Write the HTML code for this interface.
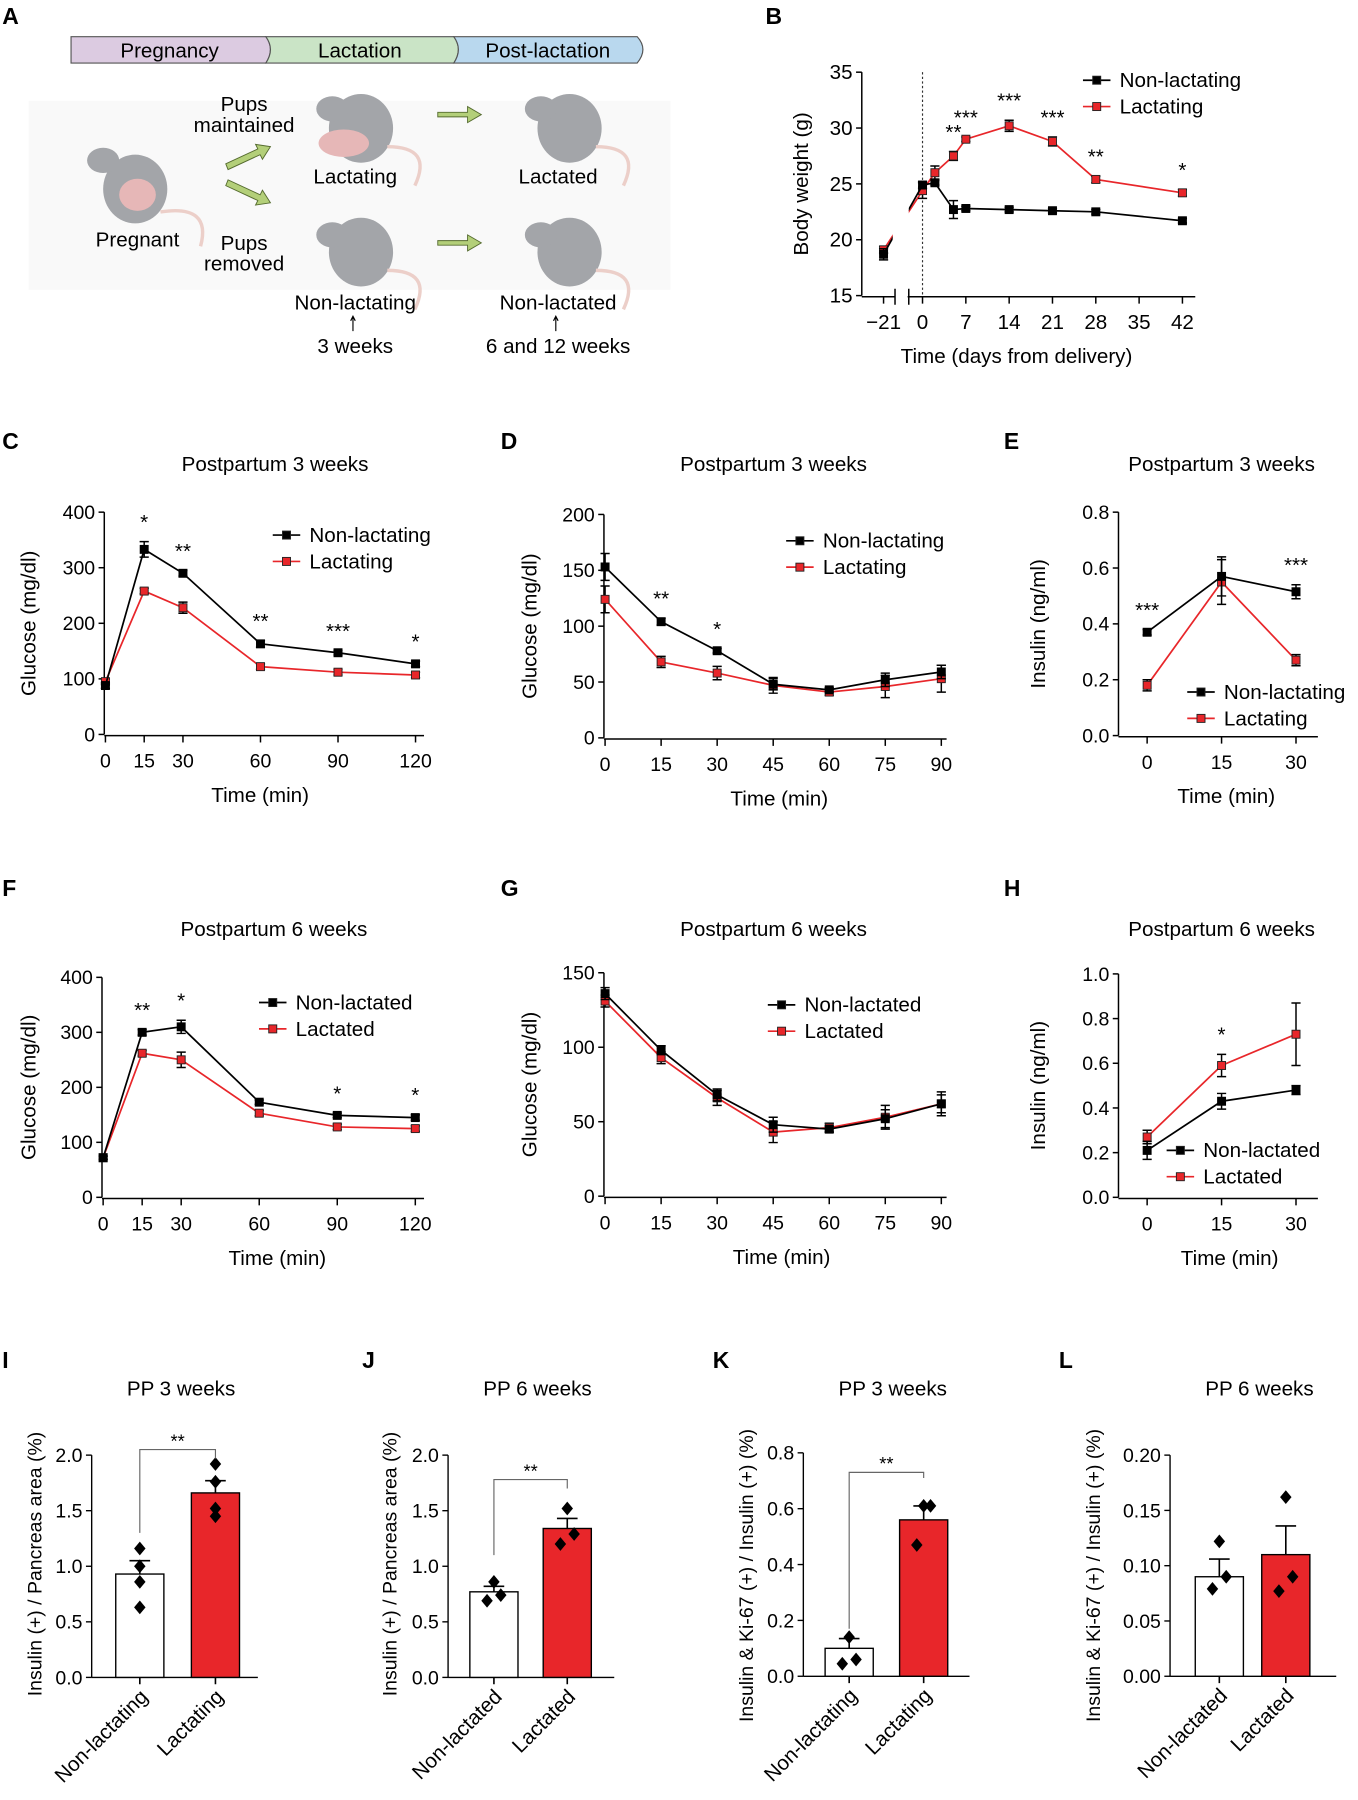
<!DOCTYPE html>
<html><head><meta charset="utf-8"><style>
html,body{margin:0;padding:0;background:#fff;}
svg{display:block;font-family:"Liberation Sans",sans-serif;}
</style></head><body>
<svg id="fig" width="1358" height="1800" viewBox="0 0 1185 1571" preserveAspectRatio="none" xmlns="http://www.w3.org/2000/svg">
<g font-weight="bold" font-size="20">
<text x="2" y="21">A</text><text x="668" y="21">B</text><text x="2" y="392">C</text><text x="437" y="392">D</text><text x="876" y="392">E</text><text x="2" y="782">F</text><text x="437" y="782">G</text><text x="876" y="782">H</text><text x="2" y="1194">I</text><text x="316" y="1194">J</text><text x="622" y="1194">K</text><text x="924" y="1194">L</text>
</g>
<g font-size="18" text-anchor="middle">
<rect x="25" y="88" width="560" height="165" fill="#f9f9f9"/>
<path d="M62,32 H232 Q240,43 232,55 H62 Z" fill="#dccbe1" stroke="#555"/>
<path d="M232,32 H396 Q404,43 396,55 H232 Q240,43 232,32 Z" fill="#cae4c6" stroke="#555"/>
<path d="M396,32 H556 Q566,43 556,55 H396 Q404,43 396,32 Z" fill="#b9d8ee" stroke="#555"/>
<text x="148" y="50">Pregnancy</text><text x="314" y="50">Lactation</text><text x="478" y="50">Post-lactation</text>
<g fill="#a3a5a9">
<ellipse cx="118" cy="165" rx="28" ry="30"/><ellipse cx="90" cy="140" rx="14" ry="11"/>
<ellipse cx="315" cy="112" rx="28" ry="30"/><ellipse cx="290" cy="95" rx="14" ry="11"/>
<ellipse cx="497" cy="112" rx="28" ry="30"/><ellipse cx="472" cy="95" rx="14" ry="11"/>
<ellipse cx="315" cy="220" rx="28" ry="30"/><ellipse cx="290" cy="205" rx="14" ry="11"/>
<ellipse cx="497" cy="220" rx="28" ry="30"/><ellipse cx="472" cy="205" rx="14" ry="11"/>
</g>
<g fill="#e6b7b7"><ellipse cx="120" cy="170" rx="16" ry="14"/><ellipse cx="300" cy="125" rx="22" ry="12"/></g>
<g fill="none" stroke="#eccfc9" stroke-width="3">
<path d="M140,185 Q185,178 175,215"/><path d="M338,128 Q378,128 362,162"/><path d="M520,128 Q560,128 544,162"/><path d="M338,236 Q378,236 362,270"/><path d="M520,236 Q560,236 544,270"/>
</g>
<g fill="#b3cf79" stroke="#556b2f" stroke-width="0.8">
<path d="M197,143 L225,130 L223,126 L236,128 L229,139 L227,135 L199,148 Z"/>
<path d="M197,162 L225,175 L223,179 L236,177 L229,166 L227,170 L199,157 Z"/>
<path d="M382,98 H408 V93 L420,100 L408,107 V102 H382 Z"/>
<path d="M382,210 H408 V205 L420,212 L408,219 V214 H382 Z"/>
</g>
<text x="213" y="97">Pups</text><text x="213" y="115">maintained</text>
<text x="310" y="160">Lactating</text><text x="487" y="160">Lactated</text>
<text x="120" y="215">Pregnant</text>
<text x="213" y="218">Pups</text><text x="213" y="236">removed</text>
<text x="310" y="270">Non-lactating</text><text x="487" y="270">Non-lactated</text>
<text x="310" y="308">3 weeks</text><text x="487" y="308">6 and 12 weeks</text>
<path d="M308,289 V277 M306,280 L308,276 L310,280 M485,289 V277 M483,280 L485,276 L487,280" stroke="#000" fill="none"/>
</g>
<g id="charts"></g>
</svg>
<script>
// ===== Data =====
// Panel B body weight
const bDays = [-21, 0, 2, 5, 7, 14, 21, 28, 42];
const bNonLact = [18.7, 24.9, 25.1, 22.7, 22.8, 22.7, 22.6, 22.5, 21.7];
const bNonLactErr = [0.5, 0.3, 0.2, 0.8, 0.2, 0.2, 0.2, 0.2, 0.2];
const bLact = [19.1, 24.4, 26.0, 27.5, 29.0, 30.2, 28.8, 25.4, 24.2];
const bLactErr = [0.3, 0.7, 0.6, 0.4, 0.2, 0.5, 0.4, 0.3, 0.3];
const bStars = ["", "", "", "**", "***", "***", "***", "**", "*"];
const bYTicks = [15, 20, 25, 30, 35];
const bXTicks = [-21, 0, 7, 14, 21, 28, 35, 42];
// Panel C
const cTimes = [0, 15, 30, 60, 90, 120];
const cNonLact = [88, 333, 290, 163, 147, 127];
const cNonLactErr = [5, 14, 5, 6, 4, 5];
const cLact = [95, 258, 228, 122, 112, 107];
const cLactErr = [5, 5, 10, 5, 5, 5];
const cStars = ["", "*", "**", "**", "***", "*"];
const cYTicks = [0, 100, 200, 300, 400];
// Panel D
const dTimes = [0, 15, 30, 45, 60, 75, 90];
const dNonLact = [153, 104, 78, 48, 43, 52, 59];
const dNonLactErr = [12, 3, 2, 5, 2, 6, 6];
const dLact = [124, 68, 58, 47, 41, 46, 53];
const dLactErr = [12, 5, 6, 7, 3, 10, 12];
const dStars = ["", "**", "*", "", "", "", ""];
const dYTicks = [0, 50, 100, 150, 200];
// Panel E
const eTimes = [0, 15, 30];
const eNonLact = [0.37, 0.57, 0.515];
const eNonLactErr = [0.01, 0.07, 0.025];
const eLact = [0.18, 0.55, 0.27];
const eLactErr = [0.02, 0.08, 0.02];
const eStars = ["***", "", "***"];
const eYTicks = [0.0, 0.2, 0.4, 0.6, 0.8];
// Panel F
const fTimes = [0, 15, 30, 60, 90, 120];
const fNonLact = [72, 300, 310, 173, 149, 145];
const fNonLactErr = [3, 5, 12, 4, 4, 5];
const fLact = [72, 262, 250, 153, 128, 125];
const fLactErr = [3, 5, 14, 5, 5, 5];
const fStars = ["", "**", "*", "", "*", "*"];
const fYTicks = [0, 100, 200, 300, 400];
// Panel G
const gTimes = [0, 15, 30, 45, 60, 75, 90];
const gNonLact = [136, 98, 68, 48, 45, 52, 62];
const gNonLactErr = [4, 3, 4, 5, 2, 6, 6];
const gLact = [131, 93, 66, 43, 46, 53, 62];
const gLactErr = [4, 4, 5, 7, 3, 8, 8];
const gYTicks = [0, 50, 100, 150];
// Panel H
const hTimes = [0, 15, 30];
const hNonLact = [0.21, 0.43, 0.48];
const hNonLactErr = [0.04, 0.035, 0.02];
const hLact = [0.27, 0.59, 0.73];
const hLactErr = [0.03, 0.05, 0.14];
const hStars = ["", "*", ""];
const hYTicks = [0.0, 0.2, 0.4, 0.6, 0.8, 1.0];
// Bar panels
const iMeans = [0.93, 1.66]; const iErr = [0.12, 0.11];
const iPtsA = [0.63, 0.86, 1.0, 1.16]; const iPtsB = [1.45, 1.52, 1.76, 1.92];
const jMeans = [0.77, 1.34]; const jErr = [0.05, 0.09];
const jPtsA = [0.69, 0.74, 0.86]; const jPtsB = [1.20, 1.29, 1.52];
const kMeans = [0.10, 0.56]; const kErr = [0.035, 0.05];
const kPtsA = [0.045, 0.06, 0.14]; const kPtsB = [0.47, 0.61, 0.61];
const lMeans = [0.090, 0.110]; const lErr = [0.016, 0.026];
const lPtsA = [0.079, 0.09, 0.122]; const lPtsB = [0.077, 0.09, 0.162];

// ===== Drawing =====
const NS = "http://www.w3.org/2000/svg";
const root = document.getElementById('charts');
function mk(tag, attrs, parent) {
  const el = document.createElementNS(NS, tag);
  for (const k in attrs) el.setAttribute(k, attrs[k]);
  (parent || root).appendChild(el);
  return el;
}
function txt(x, y, s, size, anchor, parent, extra) {
  const t = mk('text', Object.assign({x: x, y: y, 'font-size': size, 'text-anchor': anchor || 'middle'}, extra || {}), parent);
  t.textContent = s;
  return t;
}
function fmt(v, dec) { return v.toFixed(dec); }

function lineChart(c) {
  const g = mk('g', {});
  
  
  const X = c.xf;
  const Y = v => c.yBase - (v - c.yMin) * c.yPx;
  const fs = c.tickSize || 17;
  const ya = mk('line', {x1: c.ox, y1: Y(c.yTicks[0]), x2: c.ox, y2: Y(c.yTicks[c.yTicks.length - 1]), stroke: '#000', 'stroke-width': 1.3}, g);
  
  
  c.yTicks.forEach(v => {
    mk('line', {x1: c.ox - 5, x2: c.ox, y1: Y(v), y2: Y(v), stroke: '#000', 'stroke-width': 1.3}, g);
    const t = txt(c.ox - 8, Y(v) + 6, fmt(v, c.yDec), fs, 'end', g);
    
    
  });
  const xa = mk('line', {x1: c.xAxis[0], y1: c.yBase + 1, x2: c.xAxis[1], y2: c.yBase + 1, stroke: '#000', 'stroke-width': 1.3}, g);
  
  
  c.xTicks.forEach(v => {
    mk('line', {x1: X(v), x2: X(v), y1: c.yBase + 1, y2: c.yBase + 7, stroke: '#000', 'stroke-width': 1.3}, g);
    const t = txt(X(v), c.yBase + 29, String(v).replace('-', '\u2212'), fs, 'middle', g);
    
    
  });
  const xl = txt(c.xLabelX, c.yBase + 59, c.xLabel, 18, 'middle', g);
  
  
  const yl = txt(0, 0, c.yLabel, 18, 'middle', g, {transform: 'translate(' + c.yLabelX + ',' + ((Y(c.yTicks[0]) + Y(c.yTicks[c.yTicks.length - 1])) / 2) + ') rotate(-90)'});
  
  
  if (c.title) {
    const tt = txt(c.titleX, c.titleY, c.title, 18, 'middle', g);
    
    
  }
  if (c.extra) c.extra(g, X, Y);
  c.series.forEach(s => {
    const sg = mk('g', {}, g);
    
    
    const pts = s.vals.map((v, i) => [X(c.xs[i]), Y(v)]);
    const ln = mk('polyline', {points: pts.map(p => p.join(',')).join(' '), fill: 'none', stroke: s.color, 'stroke-width': 1.5, 'clip-path': c.clip || ''}, sg);
    
    
    s.vals.forEach((v, i) => {
      const x = X(c.xs[i]), y1 = Y(v + s.err[i]), y2 = Y(v - s.err[i]);
      mk('path', {d: 'M' + x + ',' + y1 + 'V' + y2 + 'M' + (x - 4) + ',' + y1 + 'h8M' + (x - 4) + ',' + y2 + 'h8', stroke: '#000', 'stroke-width': 1.3, fill: 'none'}, sg);
      const m = mk('rect', {x: x - 3.5, y: Y(v) - 3.5, width: 7, height: 7, fill: s.fill, stroke: s.fill === '#000' ? '#000' : '#222', 'stroke-width': 0.8}, sg);
      
      
    });
  });
  if (c.stars) {
    c.stars.forEach((s, i) => {
      if (!s) return;
      const top = Math.max(...c.series.map(se => se.vals[i] + se.err[i]));
      const t = txt(X(c.xs[i]), Y(top) - 11, s, 18, 'middle', g);
      
      
    });
  }
  c.series.slice().reverse().forEach((s, k) => {
    const ly = c.legY + k * 23;
    const lg = mk('g', {}, g);
    
    
    mk('line', {x1: c.legX, x2: c.legX + 24, y1: ly, y2: ly, stroke: s.color, 'stroke-width': 1.5}, lg);
    mk('rect', {x: c.legX + 8.5, y: ly - 3.5, width: 7, height: 7, fill: s.fill, stroke: '#222', 'stroke-width': 0.8}, lg);
    txt(c.legX + 32, ly + 6, s.label, 18, 'start', lg);
  });
}
const RED = '#e8262a';
function two(a, b, ae, be, la, lb) {
  return [
    {name: 'series-lactating', vals: b, err: be, color: RED, fill: RED, label: lb},
    {name: 'series-non-lactating', vals: a, err: ae, color: '#000', fill: '#000', label: la}
  ];
}
const defs = mk('defs', {});
const cp = mk('clipPath', {id: 'bclip'}, defs);
mk('path', {d: 'M700,40 H779 V300 H700 Z M793,40 H1100 V300 H793 Z'}, cp);

lineChart({name: 'panel-b-body-weight-chart', ox: 752, yBase: 258, yMin: 15, yPx: 195 / 20, yTicks: bYTicks, yDec: 0, tickSize: 18,
  xf: d => d < -10 ? 771 : 805 + d * 5.4, xs: bDays, xTicks: bXTicks, xAxis: [752, 1043],
  xLabel: 'Time (days from delivery)', xLabelX: 887, yLabel: 'Body weight  (g)', yLabelX: 705,
  series: two(bNonLact, bLact, bNonLactErr, bLactErr, 'Non-lactating', 'Lactating'), stars: bStars, legX: 945, legY: 70, clip: 'url(#bclip)',
  extra: (g, X, Y) => {
    mk('rect', {x: 781, y: 250, width: 11, height: 14, fill: '#fff'}, g);
    mk('path', {d: 'M781,252 V266 M793,252 V266', stroke: '#000', 'stroke-width': 1.3}, g);
    const dl = mk('line', {x1: X(0), x2: X(0), y1: 63, y2: 258, stroke: '#333', 'stroke-dasharray': '2,2'}, g);
    
    
  }});
lineChart({name: 'panel-c-glucose-3wk', ox: 91, yBase: 641, yMin: 0, yPx: 194 / 400, yTicks: cYTicks, yDec: 0,
  xf: t => 92 + t * 2.255, xs: cTimes, xTicks: cTimes, xAxis: [91, 370],
  xLabel: 'Time (min)', xLabelX: 227, yLabel: 'Glucose (mg/dl)', yLabelX: 31, title: 'Postpartum 3 weeks', titleX: 240, titleY: 411,
  series: two(cNonLact, cLact, cNonLactErr, cLactErr, 'Non-lactating', 'Lactating'), stars: cStars, legX: 238, legY: 467});
lineChart({name: 'panel-d-glucose-3wk', ox: 527, yBase: 644, yMin: 0, yPx: 195 / 200, yTicks: dYTicks, yDec: 0,
  xf: t => 528 + t * 3.26, xs: dTimes, xTicks: dTimes, xAxis: [527, 826],
  xLabel: 'Time (min)', xLabelX: 680, yLabel: 'Glucose (mg/dl)', yLabelX: 468, title: 'Postpartum 3 weeks', titleX: 675, titleY: 411,
  series: two(dNonLact, dLact, dNonLactErr, dLactErr, 'Non-lactating', 'Lactating'), stars: dStars, legX: 686, legY: 472});
lineChart({name: 'panel-e-insulin-3wk', ox: 976, yBase: 642, yMin: 0, yPx: 195 / 0.8, yTicks: eYTicks, yDec: 1,
  xf: t => 1001 + t * 4.33, xs: eTimes, xTicks: eTimes, xAxis: [976, 1150],
  xLabel: 'Time (min)', xLabelX: 1070, yLabel: 'Insulin  (ng/ml)', yLabelX: 912, title: 'Postpartum 3 weeks', titleX: 1066, titleY: 411,
  series: two(eNonLact, eLact, eNonLactErr, eLactErr, 'Non-lactating', 'Lactating'), stars: eStars, legX: 1036, legY: 604});
lineChart({name: 'panel-f-glucose-6wk', ox: 89, yBase: 1045, yMin: 0, yPx: 192 / 400, yTicks: fYTicks, yDec: 0,
  xf: t => 90 + t * 2.27, xs: fTimes, xTicks: fTimes, xAxis: [89, 370],
  xLabel: 'Time (min)', xLabelX: 242, yLabel: 'Glucose (mg/dl)', yLabelX: 31, title: 'Postpartum 6 weeks', titleX: 239, titleY: 817,
  series: two(fNonLact, fLact, fNonLactErr, fLactErr, 'Non-lactated', 'Lactated'), stars: fStars, legX: 226, legY: 875});
lineChart({name: 'panel-g-glucose-6wk', ox: 527, yBase: 1044, yMin: 0, yPx: 195 / 150, yTicks: gYTicks, yDec: 0,
  xf: t => 528 + t * 3.26, xs: gTimes, xTicks: gTimes, xAxis: [527, 826],
  xLabel: 'Time (min)', xLabelX: 682, yLabel: 'Glucose (mg/dl)', yLabelX: 468, title: 'Postpartum 6 weeks', titleX: 675, titleY: 817,
  series: two(gNonLact, gLact, gNonLactErr, gLactErr, 'Non-lactated', 'Lactated'), stars: null, legX: 670, legY: 877});
lineChart({name: 'panel-h-insulin-6wk', ox: 976, yBase: 1045, yMin: 0, yPx: 195 / 1.0, yTicks: hYTicks, yDec: 1,
  xf: t => 1001 + t * 4.33, xs: hTimes, xTicks: hTimes, xAxis: [976, 1150],
  xLabel: 'Time (min)', xLabelX: 1073, yLabel: 'Insulin  (ng/ml)', yLabelX: 912, title: 'Postpartum 6 weeks', titleX: 1066, titleY: 817,
  series: two(hNonLact, hLact, hNonLactErr, hLactErr, 'Non-lactated', 'Lactated'), stars: hStars, legX: 1018, legY: 1004});

function barChart(c) {
  const g = mk('g', {});
  
  
  const Y = v => c.yBase - v * c.yPx;
  const top = c.yTicks[c.yTicks.length - 1];
  mk('line', {x1: c.ox, x2: c.ox, y1: Y(0), y2: Y(top), stroke: '#000', 'stroke-width': 1.2}, g);
  mk('line', {x1: c.ox, x2: c.ox + 145, y1: Y(0), y2: Y(0), stroke: '#000', 'stroke-width': 1.2}, g);
  c.yTicks.forEach(v => {
    mk('line', {x1: c.ox - 5, x2: c.ox, y1: Y(v), y2: Y(v), stroke: '#000', 'stroke-width': 1.2}, g);
    const t = txt(c.ox - 8, Y(v) + 6, fmt(v, c.yDec), 17, 'end', g);
    
    
  });
  const yl = txt(0, 0, c.yLabel, 17, 'middle', g, {transform: 'translate(' + c.yLabelX + ',' + c.yLabelY + ') rotate(-90)'});
  
  
  const tt = txt(c.ox + 78, 1218, c.title, 18, 'middle', g);
  
  
  const pts = [c.ptsA, c.ptsB];
  c.means.forEach((m, i) => {
    const cx = c.cx[i];
    const b = mk('rect', {x: cx - 21, y: Y(m), width: 42, height: Y(0) - Y(m), fill: i ? RED : '#fff', stroke: '#000', 'stroke-width': 1.2}, g);
    
    
    mk('path', {d: 'M' + cx + ',' + Y(m) + 'V' + Y(m + c.err[i]) + 'M' + (cx - 9) + ',' + Y(m + c.err[i]) + 'h18M' + cx + ',' + Y(0) + 'v6', stroke: '#000', 'stroke-width': 1.4, fill: 'none'}, g);
    pts[i].forEach((p, k) => {
      const dx = pts[i].length === 3 ? [-6, 6, 0][k] : 0;
      const d = mk('path', {d: 'M' + (cx + dx) + ',' + (Y(p) - 6) + 'l5,6l-5,6l-5,-6z', fill: '#000'}, g);
      
      
    });
    const lt = txt(0, 0, c.cats[i], 18, 'end', g, {transform: 'translate(' + (cx + 8) + ',' + (Y(0) + 18) + ') rotate(-45)'});
    
    
  });
  if (c.sigY) {
    const by = Y(c.sigY);
    const br = mk('path', {d: 'M' + c.cx[0] + ',' + Y(c.sigA) + 'V' + by + 'H' + c.cx[1] + 'V' + Y(c.sigB), stroke: '#666', fill: 'none', 'stroke-width': 1}, g);
    
    
    const st = txt((c.cx[0] + c.cx[1]) / 2, by - 2, '**', 16, 'middle', g);
    
    
  }
}
barChart({name: 'panel-i-insulin-area-3wk', ox: 80, yBase: 1464, yPx: 194 / 2, yTicks: [0, 0.5, 1.0, 1.5, 2.0], yDec: 1,
  yLabel: 'Insulin (+) / Pancreas area (%)', yLabelX: 36, yLabelY: 1365, title: 'PP 3 weeks',
  cx: [122, 188], means: iMeans, err: iErr, ptsA: iPtsA, ptsB: iPtsB, cats: ['Non-lactating', 'Lactating'], sigY: 2.05, sigA: 1.3, sigB: 1.97});
barChart({name: 'panel-j-insulin-area-6wk', ox: 391, yBase: 1464, yPx: 194 / 2, yTicks: [0, 0.5, 1.0, 1.5, 2.0], yDec: 1,
  yLabel: 'Insulin (+) / Pancreas area (%)', yLabelX: 346, yLabelY: 1365, title: 'PP 6 weeks',
  cx: [431, 495], means: jMeans, err: jErr, ptsA: jPtsA, ptsB: jPtsB, cats: ['Non-lactated', 'Lactated'], sigY: 1.78, sigA: 1.1, sigB: 1.7});
barChart({name: 'panel-k-ki67-3wk', ox: 701, yBase: 1463, yPx: 195 / 0.8, yTicks: [0, 0.2, 0.4, 0.6, 0.8], yDec: 1,
  yLabel: 'Insulin & Ki-67 (+) / Insulin (+) (%)', yLabelX: 657, yLabelY: 1375, title: 'PP 3 weeks',
  cx: [741, 806], means: kMeans, err: kErr, ptsA: kPtsA, ptsB: kPtsB, cats: ['Non-lactating', 'Lactating'], sigY: 0.73, sigA: 0.17, sigB: 0.71});
barChart({name: 'panel-l-ki67-6wk', ox: 1021, yBase: 1463, yPx: 193 / 0.2, yTicks: [0, 0.05, 0.10, 0.15, 0.20], yDec: 2,
  yLabel: 'Insulin & Ki-67 (+) / Insulin (+) (%)', yLabelX: 960, yLabelY: 1375, title: 'PP 6 weeks',
  cx: [1064, 1122], means: lMeans, err: lErr, ptsA: lPtsA, ptsB: lPtsB, cats: ['Non-lactated', 'Lactated'], sigY: 0});
</script>
</body></html>
